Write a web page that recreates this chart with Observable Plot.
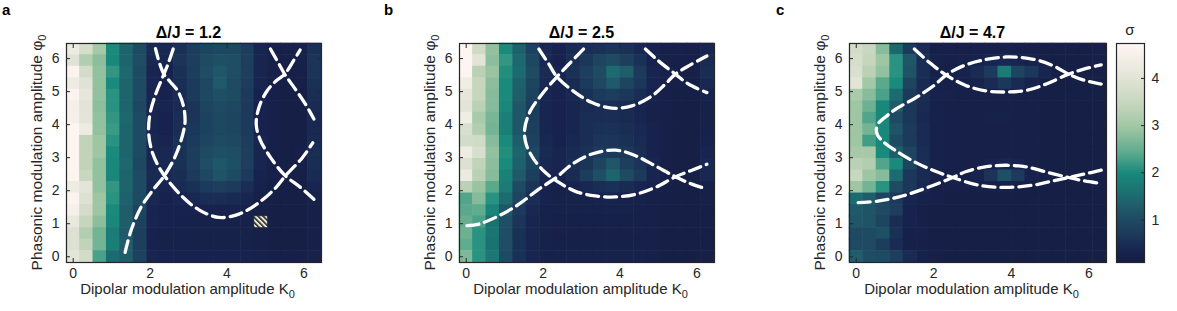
<!DOCTYPE html>
<html><head><meta charset="utf-8">
<script src="https://cdn.jsdelivr.net/npm/d3@7"></script>
<script src="https://cdn.jsdelivr.net/npm/@observablehq/plot@0.6"></script>
<style>
body{margin:0;background:#fff;font-family:"Liberation Sans",Arial,sans-serif;}
#root{position:relative;width:1177px;height:311px;overflow:hidden;background:#fff;}
#root svg{position:absolute;top:0;}
</style></head><body><div id="root"></div>
<script>
// ---- grids (cell centres) ----
const kGrid   = [0,0.349,0.698,1.047,1.396,1.745,2.094,2.443,2.793,3.142,3.491,3.840,4.189,4.538,4.887,5.236,5.585,5.934,6.283];
const phiGrid = [0,0.349,0.698,1.047,1.396,1.745,2.094,2.443,2.793,3.142,3.491,3.840,4.189,4.538,4.887,5.236,5.585,5.934,6.283];
const xTicks = [0,2,4,6];
const yTicks = [0,1,2,3,4,5,6];
const cbTicks = [1,2,3,4];
const titles = ["Δ/J = 1.2","Δ/J = 2.5","Δ/J = 4.7"];
const letters = ["a","b","c"];

// ---- colormap (σ) ----
const cmapValues = [0.10,0.35,0.70,1.00,1.30,1.60,2.00,2.40,2.95,3.45,4.00,4.74];
const cmapColors = ["#151d44","#182550","#1c3a5b","#1e4a62","#1f5d6b","#1b7272","#1a8a7c","#5aa98d","#9fc6a3","#c5d6bd","#e2e4d7","#fff6f4"];

// ---- σ values: one array per K0 column, φ0 listed from top (6.28) to bottom (0) ----
const sigmaA = [
[4.25,3.95,4.6,4.3,4.6,4.45,4.45,4.7,4.7,4.7,4.7,4.65,4.3,4.6,4.5,4.15,3.9,3.9,4.05],
[3.75,3.2,3.7,3.95,4.1,4.0,4.05,4.3,3.4,3.4,3.4,3.5,4.05,3.9,3.7,3.45,3.2,3.4,3.7],
[3.05,2.8,2.85,2.85,2.85,2.8,2.85,2.85,2.95,2.95,2.85,2.85,2.85,2.95,2.95,2.8,2.6,2.6,2.3],
[2.0,1.95,2.15,2.0,2.1,2.1,2.15,2.2,2.1,2.0,1.95,1.95,2.15,2.1,2.0,1.95,1.75,1.8,1.5],
[1.4,1.4,1.45,1.4,1.4,1.4,1.45,1.4,1.4,1.4,1.45,1.4,1.4,1.35,1.3,1.3,1.25,1.3,1.3],
[1.0,1.05,1.0,1.0,1.0,0.95,1.0,1.0,1.0,1.0,0.95,1.0,1.0,1.0,0.9,0.85,0.8,0.8,0.85],
[0.45,0.4,0.35,0.35,0.35,0.35,0.35,0.35,0.4,0.4,0.4,0.45,0.4,0.4,0.35,0.35,0.3,0.3,0.35],
[0.4,0.35,0.3,0.3,0.3,0.35,0.3,0.3,0.35,0.4,0.4,0.45,0.35,0.3,0.3,0.3,0.25,0.25,0.3],
[0.55,0.6,0.55,0.5,0.45,0.45,0.5,0.5,0.55,0.55,0.55,0.5,0.45,0.35,0.3,0.25,0.25,0.25,0.3],
[0.75,0.8,0.75,0.7,0.7,0.6,0.6,0.65,0.7,0.75,0.75,0.7,0.55,0.4,0.3,0.25,0.25,0.25,0.3],
[0.9,1.0,1.05,0.95,0.95,0.9,0.85,0.85,0.9,1.0,1.05,0.95,0.7,0.5,0.3,0.25,0.25,0.25,0.3],
[0.95,1.1,1.2,1.25,1.1,1.0,0.95,0.95,1.0,1.1,1.2,1.15,0.8,0.5,0.3,0.25,0.25,0.25,0.3],
[0.95,1.05,1.05,1.0,1.0,0.95,0.9,0.9,0.95,1.05,1.1,1.0,0.7,0.45,0.3,0.25,0.25,0.25,0.3],
[0.75,0.8,0.8,0.75,0.7,0.7,0.7,0.7,0.75,0.8,0.8,0.7,0.5,0.35,0.25,0.25,0.25,0.25,0.3],
[0.35,0.35,0.35,0.35,0.3,0.3,0.3,0.3,0.35,0.35,0.35,0.3,0.25,0.2,0.2,0.2,0.2,0.2,0.25],
[0.2,0.2,0.2,0.2,0.2,0.2,0.2,0.2,0.2,0.2,0.2,0.2,0.15,0.15,0.15,0.15,0.15,0.15,0.2],
[0.2,0.2,0.2,0.15,0.15,0.15,0.15,0.15,0.15,0.15,0.15,0.15,0.15,0.15,0.15,0.15,0.15,0.15,0.2],
[0.25,0.25,0.2,0.2,0.15,0.15,0.15,0.15,0.15,0.2,0.2,0.2,0.15,0.15,0.15,0.15,0.15,0.15,0.2],
[0.55,0.6,0.6,0.55,0.5,0.45,0.4,0.4,0.45,0.5,0.5,0.45,0.35,0.25,0.2,0.2,0.2,0.2,0.25]
];
const sigmaB = [
[4.7,4.7,4.65,4.35,4.1,4.05,4.35,3.8,3.7,4.3,3.9,4.25,3.3,2.35,2.4,2.5,2.55,2.45,2.7],
[3.65,4.0,3.3,3.45,3.45,3.3,3.1,3.2,3.65,3.8,3.4,3.3,2.9,2.75,2.45,2.3,2.1,2.1,2.1],
[2.85,2.8,2.9,2.8,2.75,2.75,2.65,2.6,2.75,2.85,2.8,2.75,2.4,2.1,1.9,1.6,1.65,1.6,1.7],
[2.0,2.15,2.05,2.0,2.0,1.95,1.8,1.8,2.0,2.05,2.0,1.85,1.75,1.5,1.2,1.1,1.05,1.05,1.0],
[1.35,1.45,1.5,1.35,1.3,1.2,1.2,1.2,1.3,1.4,1.35,1.25,1.0,0.9,0.7,0.6,0.55,0.55,0.55],
[0.85,0.95,1.0,0.9,0.85,0.75,0.75,0.8,0.85,0.95,0.9,0.8,0.6,0.5,0.4,0.35,0.35,0.35,0.35],
[0.4,0.4,0.45,0.4,0.35,0.35,0.35,0.35,0.4,0.45,0.4,0.35,0.3,0.3,0.25,0.25,0.25,0.25,0.25],
[0.3,0.3,0.35,0.3,0.3,0.3,0.3,0.3,0.3,0.35,0.35,0.3,0.25,0.25,0.25,0.2,0.2,0.2,0.25],
[0.45,0.5,0.55,0.45,0.4,0.35,0.35,0.35,0.4,0.45,0.5,0.45,0.3,0.25,0.25,0.2,0.2,0.2,0.25],
[0.5,0.65,0.8,0.7,0.55,0.45,0.5,0.5,0.5,0.55,0.6,0.75,0.4,0.25,0.25,0.2,0.2,0.2,0.25],
[0.55,0.9,1.0,0.95,0.7,0.5,0.5,0.55,0.6,0.7,0.9,1.1,0.5,0.3,0.25,0.2,0.2,0.2,0.25],
[0.6,1.0,1.5,1.25,0.75,0.5,0.5,0.55,0.6,0.7,1.2,1.4,0.55,0.3,0.25,0.2,0.2,0.2,0.25],
[0.55,0.8,1.3,0.9,0.65,0.45,0.45,0.5,0.55,0.65,0.8,1.0,0.45,0.25,0.25,0.2,0.2,0.2,0.25],
[0.4,0.55,0.7,0.65,0.5,0.35,0.35,0.4,0.45,0.5,0.6,0.7,0.35,0.25,0.2,0.2,0.2,0.2,0.25],
[0.3,0.3,0.35,0.35,0.3,0.25,0.25,0.3,0.3,0.3,0.35,0.35,0.25,0.2,0.2,0.2,0.2,0.2,0.2],
[0.2,0.25,0.25,0.2,0.2,0.2,0.2,0.2,0.2,0.2,0.2,0.2,0.2,0.15,0.15,0.15,0.15,0.15,0.15],
[0.2,0.2,0.2,0.2,0.15,0.15,0.15,0.15,0.15,0.15,0.15,0.15,0.15,0.15,0.15,0.15,0.15,0.15,0.15],
[0.2,0.2,0.2,0.15,0.15,0.15,0.15,0.15,0.15,0.15,0.15,0.15,0.15,0.15,0.15,0.15,0.15,0.15,0.15],
[0.35,0.45,0.5,0.4,0.3,0.25,0.25,0.25,0.3,0.35,0.4,0.4,0.2,0.2,0.15,0.15,0.15,0.15,0.2]
];
const sigmaC = [
[3.7,3.75,3.85,4.0,3.1,2.95,2.95,2.95,2.95,3.05,3.3,3.5,2.95,1.5,1.25,1.2,1.0,1.0,1.3],
[3.5,3.45,3.3,3.0,2.75,2.55,2.35,2.6,2.25,3.05,3.2,2.95,2.6,1.3,1.15,1.15,1.0,1.0,1.05],
[2.75,2.95,2.85,2.4,2.3,1.95,1.95,1.95,1.95,2.0,2.35,2.75,2.1,0.9,1.0,0.9,1.1,0.75,1.0],
[1.45,2.1,2.1,2.0,1.5,1.3,1.0,1.15,1.0,1.3,2.0,1.5,1.0,0.7,0.75,0.5,0.55,0.45,0.8],
[0.7,1.2,1.15,0.9,0.7,0.65,0.65,0.7,0.7,0.9,0.9,0.65,0.65,0.35,0.3,0.3,0.2,0.2,0.45],
[0.45,0.5,0.5,0.45,0.45,0.45,0.4,0.45,0.45,0.5,0.5,0.45,0.4,0.25,0.2,0.2,0.2,0.2,0.25],
[0.2,0.25,0.25,0.25,0.3,0.25,0.25,0.25,0.25,0.25,0.25,0.25,0.2,0.2,0.15,0.15,0.15,0.15,0.2],
[0.2,0.2,0.2,0.2,0.25,0.2,0.2,0.2,0.2,0.2,0.2,0.2,0.2,0.15,0.15,0.15,0.15,0.15,0.15],
[0.2,0.25,0.3,0.25,0.2,0.2,0.2,0.2,0.2,0.2,0.2,0.2,0.2,0.15,0.15,0.15,0.15,0.15,0.15],
[0.2,0.3,0.45,0.3,0.2,0.2,0.2,0.2,0.2,0.2,0.2,0.3,0.2,0.15,0.15,0.15,0.15,0.15,0.15],
[0.25,0.35,0.7,0.45,0.2,0.2,0.25,0.2,0.2,0.2,0.3,0.6,0.2,0.15,0.15,0.15,0.15,0.15,0.15],
[0.25,0.4,1.75,0.65,0.25,0.2,0.25,0.2,0.2,0.2,0.35,1.1,0.25,0.15,0.15,0.15,0.15,0.15,0.15],
[0.2,0.35,0.9,0.45,0.2,0.2,0.2,0.2,0.2,0.2,0.3,0.7,0.2,0.15,0.15,0.15,0.15,0.15,0.15],
[0.2,0.25,0.65,0.3,0.2,0.2,0.2,0.2,0.2,0.2,0.2,0.3,0.15,0.15,0.15,0.15,0.15,0.15,0.15],
[0.15,0.2,0.35,0.2,0.15,0.15,0.15,0.15,0.15,0.15,0.15,0.2,0.15,0.15,0.15,0.15,0.15,0.15,0.15],
[0.15,0.15,0.15,0.15,0.15,0.15,0.15,0.15,0.15,0.15,0.15,0.15,0.15,0.15,0.15,0.15,0.15,0.15,0.15],
[0.15,0.15,0.15,0.15,0.15,0.15,0.15,0.15,0.15,0.15,0.15,0.15,0.15,0.15,0.15,0.15,0.15,0.15,0.15],
[0.15,0.15,0.15,0.15,0.15,0.15,0.15,0.15,0.15,0.15,0.15,0.15,0.15,0.15,0.15,0.15,0.15,0.15,0.15],
[0.2,0.2,0.2,0.15,0.15,0.15,0.15,0.15,0.15,0.15,0.15,0.15,0.15,0.15,0.15,0.15,0.15,0.15,0.15]
];

// ---- dashed curves, [K0, φ0] points ----
const curveA1 = [[1.35,0.13],[1.50,0.78],[1.76,1.49],[2.06,2.00],[2.38,2.47],[2.66,3.06],[2.85,3.71],[2.91,4.12],[2.86,4.60],[2.71,5.04],[2.52,5.30],[2.36,5.53],[2.24,5.88],[2.14,6.30]];
const curveA2 = [[2.60,6.29],[2.48,5.88],[2.36,5.53],[2.16,4.97],[2.01,4.40],[1.96,3.86],[2.02,3.31],[2.19,2.80],[2.42,2.38],[2.84,1.82],[3.27,1.42],[3.79,1.19],[4.31,1.29],[4.83,1.64],[5.26,2.08],[5.52,2.45],[5.96,3.00],[6.23,3.45]];
const curveA3 = [[6.26,1.74],[5.91,2.10],[5.50,2.47],[5.13,3.01],[4.86,3.55],[4.76,4.01],[4.83,4.52],[5.04,5.02],[5.28,5.33],[5.50,5.53],[5.70,5.88],[5.90,6.26]];
const curveA4 = [[5.13,6.29],[5.33,5.88],[5.50,5.53],[5.78,5.07],[6.04,4.62],[6.26,4.17]];
const curveB1 = [[0.02,0.94],[0.33,0.99],[0.85,1.24],[1.37,1.59],[1.89,2.05],[2.32,2.38],[2.75,2.80],[3.27,3.11],[3.88,3.23],[4.40,3.06],[4.92,2.75],[5.44,2.42],[5.87,2.20],[6.26,2.05]];
const curveB2 = [[3.05,6.29],[2.71,5.88],[2.36,5.45],[1.97,4.92],[1.67,4.42],[1.52,3.86],[1.56,3.41],[1.76,2.95],[2.06,2.55],[2.41,2.25],[2.84,1.98],[3.36,1.84],[3.88,1.81],[4.40,1.89],[4.92,2.10],[5.44,2.42],[5.87,2.62],[6.26,2.80]];
const curveB3 = [[1.89,6.29],[2.15,5.83],[2.36,5.45],[2.84,4.97],[3.27,4.67],[3.79,4.50],[4.31,4.57],[4.83,4.87],[5.18,5.23],[5.44,5.53],[5.83,5.81],[6.26,6.08]];
const curveB4 = [[4.66,6.29],[5.00,5.93],[5.44,5.53],[5.78,5.23],[6.26,4.97]];
const curveC1 = [[0.05,1.64],[0.59,1.69],[1.19,1.84],[1.80,2.08],[2.49,2.40],[2.84,2.58],[3.36,2.73],[3.88,2.77],[4.40,2.72],[4.92,2.56],[5.48,2.40],[5.87,2.30],[6.30,2.22]];
const curveC2 = [[6.32,2.62],[5.87,2.50],[5.48,2.40],[5.09,2.30],[4.57,2.17],[3.88,2.10],[3.18,2.16],[2.49,2.40],[2.06,2.58],[1.54,2.85],[1.02,3.21],[0.70,3.48],[0.55,3.68],[0.52,3.86],[0.58,4.05],[0.72,4.20],[1.02,4.47],[1.54,4.82],[2.00,5.18],[2.32,5.50],[2.70,5.75],[3.18,5.93],[3.88,6.05],[4.57,5.98],[5.09,5.78],[5.48,5.53],[5.87,5.35],[6.32,5.23]];
const curveC3 = [[1.50,6.29],[1.89,5.88],[2.32,5.50],[2.84,5.18],[3.36,5.02],[3.88,4.99],[4.40,5.04],[4.92,5.24],[5.48,5.53],[5.87,5.68],[6.32,5.81]];

// hatched marker cell in panel a (grid indices: K0 column, φ0 row)
const hatchCellA = [{kIndex: 14, phiIndex: 3}];

// ---------------------------------------------------------------
const root = document.getElementById("root");
const half = (kGrid[1] - kGrid[0]) / 2;
const xDomain = [kGrid[0] - half, kGrid[kGrid.length - 1] + half];
const yDomain = [phiGrid[0] - half, phiGrid[phiGrid.length - 1] + half];
const colorScale = {type: "linear", domain: cmapValues, range: cmapColors, interpolate: "rgb"};
const ink = "#262626";
const baseStyle = {background: "transparent", fontFamily: "'Liberation Sans', Arial, sans-serif", fontSize: "14px", color: ink};
const H = 311, MT = 43, MB = 49;
const layout = [
  {left: 0,   width: 393, ml: 66, mr: 72},
  {left: 393, width: 393, ml: 66, mr: 72},
  {left: 783, width: 393, ml: 66, mr: 70}
];

function makePanel(sigma, curves, hatch, L) {
  const cells = [];
  sigma.forEach((col, i) => col.forEach((v, j) => cells.push({k: kGrid[i], phi: phiGrid[phiGrid.length - 1 - j], v})));
  const lines = curves.flatMap((c, id) => c.map(([k, p]) => ({k, p, id})));
  const marks = [
    Plot.rect(cells, {x1: d => d.k - half, x2: d => d.k + half, y1: d => d.phi - half, y2: d => d.phi + half, fill: "v", inset: -0.3})
  ];
  if (hatch) {
    const h = hatch.map(d => ({k: kGrid[d.kIndex], phi: phiGrid[d.phiIndex]}));
    marks.push(Plot.rect(h, {x1: d => d.k - half, x2: d => d.k + half, y1: d => d.phi - half, y2: d => d.phi + half, fill: "url(#hatchPat)", stroke: "#333", strokeWidth: 0.6}));
  }
  marks.push(
    Plot.line(lines, {x: "k", y: "p", z: "id", stroke: "white", strokeWidth: 3.3, strokeDasharray: "12,6", curve: "catmull-rom", clip: true}),
    Plot.frame({stroke: ink, strokeWidth: 1.2}),
    Plot.axisX(xTicks, {anchor: "bottom", tickSize: 0, tickPadding: 6, fontSize: 14, label: null}),
    Plot.axisX(xTicks, {anchor: "bottom", tickSize: -4, tickFormat: () => "", label: null}),
    Plot.axisX(xTicks, {anchor: "top", tickSize: -4, tickFormat: () => "", label: null}),
    Plot.axisY(yTicks, {anchor: "left", tickSize: 0, tickPadding: 7, fontSize: 14, label: null}),
    Plot.axisY(yTicks, {anchor: "left", tickSize: -4, tickFormat: () => "", label: null}),
    Plot.axisY(yTicks, {anchor: "right", tickSize: -4, tickFormat: () => "", label: null})
  );
  return Plot.plot({width: L.width, height: H, marginLeft: L.ml, marginRight: L.mr, marginTop: MT, marginBottom: MB,
    style: baseStyle, x: {domain: xDomain, axis: null}, y: {domain: yDomain, axis: null}, color: colorScale, marks});
}

const panels = [
  makePanel(sigmaA, [curveA1, curveA2, curveA3, curveA4], hatchCellA, layout[0]),
  makePanel(sigmaB, [curveB1, curveB2, curveB3, curveB4], null, layout[1]),
  makePanel(sigmaC, [curveC1, curveC2, curveC3], null, layout[2])
];
panels.forEach((p, i) => { p.style.left = layout[i].left + "px"; root.appendChild(p); });

// hatch pattern definition
const defs = d3.select(panels[0]).insert("defs", ":first-child");
const pat = defs.append("pattern").attr("id", "hatchPat").attr("patternUnits", "userSpaceOnUse")
  .attr("width", 3.6).attr("height", 3.6).attr("patternTransform", "rotate(-45)");
pat.append("rect").attr("width", 3.6).attr("height", 3.6).attr("fill", "#e6e4d8");
pat.append("rect").attr("width", 1.5).attr("height", 3.6).attr("fill", "#1a1a1a");

// colour bar
const cb = Plot.plot({
  width: 77, height: H, marginLeft: 16, marginRight: 33, marginTop: MT, marginBottom: MB,
  style: baseStyle,
  x: {domain: [0, 1], axis: null},
  y: {domain: [cmapValues[0], cmapValues[cmapValues.length - 1]], axis: null},
  color: colorScale,
  marks: [
    Plot.raster({fill: (x, y) => y, x1: 0, x2: 1, y1: cmapValues[0], y2: cmapValues[cmapValues.length - 1], width: 2, height: 240}),
    Plot.frame({stroke: ink, strokeWidth: 1.2}),
    Plot.axisY(cbTicks, {anchor: "right", tickSize: 0, tickPadding: 7, fontSize: 14, label: null}),
    Plot.axisY(cbTicks, {anchor: "right", tickSize: -4, tickFormat: () => "", label: null})
  ]
});
cb.style.left = "1100px";
root.appendChild(cb);

// text overlay
const ov = d3.select(root).append("svg").attr("width", 1177).attr("height", H)
  .style("left", "0px").style("pointer-events", "none")
  .attr("font-family", "'Liberation Sans', Arial, sans-serif").attr("fill", ink);
const letterX = [2, 384, 776];
layout.forEach((L, i) => {
  const fl = L.left + L.ml, fr = L.left + L.width - L.mr;
  const fc = (fl + fr) / 2, fm = (MT + (H - MB)) / 2;
  ov.append("text").attr("x", letterX[i]).attr("y", 15).attr("font-size", 15).attr("font-weight", "bold").attr("fill", "#000").text(letters[i]);
  ov.append("text").attr("x", fc - 5).attr("y", 38).attr("text-anchor", "middle").attr("font-size", 16).attr("font-weight", "bold").attr("fill", "#000").text(titles[i]);
  const xl = ov.append("text").attr("x", fc - 6).attr("y", 294).attr("text-anchor", "middle").attr("font-size", 15);
  xl.append("tspan").text("Dipolar modulation amplitude K");
  xl.append("tspan").attr("dy", 4).attr("font-size", 11).text("0");
  const yl = ov.append("text").attr("transform", `translate(${fl - 24},${fm}) rotate(-90)`).attr("text-anchor", "middle").attr("font-size", 15.5);
  yl.append("tspan").text("Phasonic modulation amplitude φ");
  yl.append("tspan").attr("dy", 4).attr("font-size", 11).text("0");
});
ov.append("text").attr("x", 1130).attr("y", 35).attr("text-anchor", "middle").attr("font-size", 15).text("σ");
</script>
</body></html>
